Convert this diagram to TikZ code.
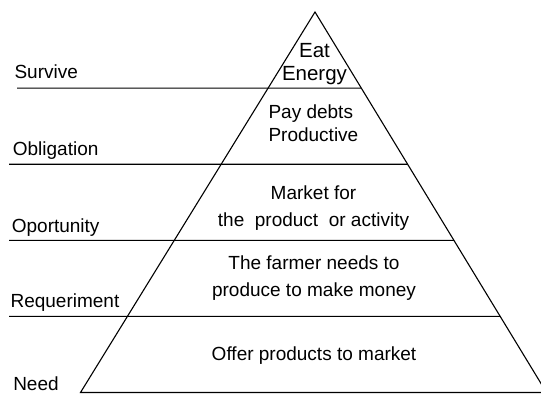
\documentclass[tikz,border=0pt]{standalone}
\usepackage{fontspec}
\setmainfont{Liberation Sans}
\usetikzlibrary{calc}

\tikzset{
    level label/.style={anchor=base west, inner sep=0pt, font=\fontsize{19}{23}\selectfont},
    tier text/.style={align=center, anchor=base, inner sep=0pt, font=\fontsize{19}{27}\selectfont},
}

\begin{document}
\begin{tikzpicture}[x=1pt, y=-1pt, line width=1.1pt]
    \useasboundingbox (0,0) rectangle (541,394);
    \clip (0,0) rectangle (541,394);

    % Pyramid outline (right corner runs off the page)
    \coordinate (apex) at (315,12);
    \coordinate (bl) at (80.5,392.5);
    \coordinate (br) at (546.5,392.5);
    \draw (apex) -- (bl) -- (br) -- cycle;

    % Level lines, from the left margin to the right side
    \foreach \i/\x in {1/17, 2/9, 3/9, 4/9} {
        \coordinate (r\i) at ($(apex)!\i/5!(br)$);
        \coordinate (l\i) at (\x, {12+76.1*\i});
        \draw (l\i) -- (r\i);
    }

    % Level names
    \foreach \name/\x/\y in {Survive/14/78.3, Obligation/12.3/155.3, Oportunity/11.3/232.7,
                             Requeriment/10/307.7, Need/12.7/390.5} {
        \node[level label] (lab-\name) at (\x,\y) {\name};
    }

    % Texts inside the pyramid (base = last line)
    \node[tier text, font=\fontsize{20.5}{23.3}\selectfont] (eat) at (314.5,80.5) {Eat\\Energy};
    \node[tier text, align=left, anchor=base west, font=\fontsize{19}{23.5}\selectfont]
        (pay) at (268,141.7) {Pay debts\\Productive};
    \node[tier text] (market) at (313.5,226.5) {Market for\\the\ \ product\ \ or activity};
    \node[tier text] (farmer) at (314,296.5) {The farmer needs to\\produce to make money};
    \node[tier text] (offer) at (314,360) {Offer products to market};
\end{tikzpicture}
\end{document}
